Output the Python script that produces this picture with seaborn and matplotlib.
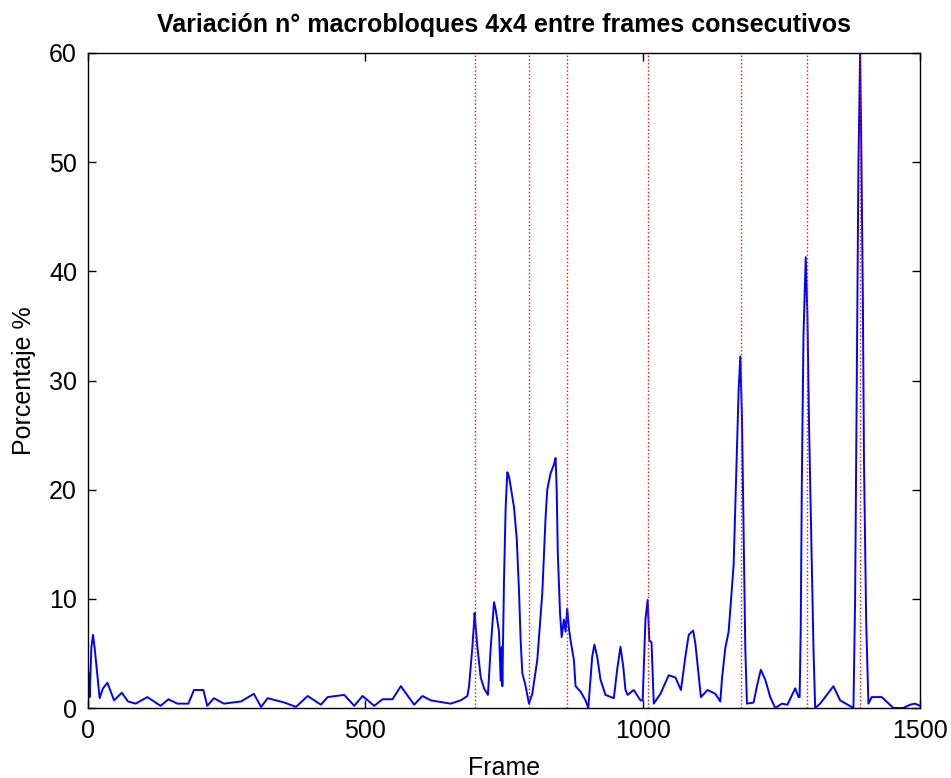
import matplotlib
matplotlib.use("Agg")
import matplotlib.pyplot as plt
import seaborn as sns
import pandas as pd

# ---- data ----
frames = [0, 1, 3, 6, 9, 12, 16, 21, 27, 35, 47, 61, 72, 86, 107, 131, 145, 161, 181,
          191, 208, 215, 227, 245, 276, 299, 312, 324, 354, 375, 396, 420, 432, 462,
          480, 495, 516, 531, 549, 564, 588, 603, 618, 654, 672, 684, 687, 690, 693,
          696, 697, 699, 702, 708, 714, 721, 726, 732, 735, 741, 744, 746, 747, 750,
          753, 756, 759, 762, 768, 773, 777, 780, 783, 789, 795, 801, 810, 819, 825,
          828, 834, 840, 843, 845, 847, 851, 854, 858, 861, 864, 867, 870, 876, 879,
          888, 897, 902, 909, 913, 918, 924, 933, 948, 954, 960, 965, 969, 973, 984,
          996, 1000, 1005, 1009, 1012, 1016, 1020, 1032, 1047, 1059, 1069, 1077, 1083,
          1091, 1095, 1105, 1117, 1131, 1140, 1143, 1149, 1155, 1159, 1164, 1167, 1170,
          1173, 1176, 1179, 1182, 1185, 1188, 1200, 1206, 1213, 1221, 1230, 1239, 1251,
          1261, 1275, 1281, 1283, 1285, 1287, 1290, 1294, 1297, 1300, 1304, 1308, 1311,
          1320, 1344, 1356, 1380, 1383, 1386, 1389, 1392, 1394, 1397, 1399, 1403, 1407,
          1413, 1431, 1452, 1470, 1482, 1491, 1500]
porcentaje = [0.0, 3.2, 1.0, 5.5, 6.7, 5.5, 3.5, 0.9, 1.8, 2.3, 0.7, 1.4, 0.6, 0.4, 1.0,
              0.2, 0.8, 0.4, 0.4, 1.65, 1.65, 0.2, 0.9, 0.4, 0.6, 1.3, 0.1, 0.9, 0.5,
              0.1, 1.1, 0.3, 1.0, 1.2, 0.2, 1.1, 0.2, 0.8, 0.8, 2.0, 0.3, 1.1, 0.7, 0.4,
              0.7, 1.1, 2.0, 3.8, 5.6, 7.8, 8.7, 7.4, 5.6, 2.8, 1.8, 1.2, 5.5, 9.7, 9.0,
              7.0, 2.5, 5.6, 2.0, 11.7, 18.4, 21.6, 21.2, 20.3, 18.4, 15.5, 10.8, 6.2,
              3.2, 2.0, 0.4, 1.3, 4.4, 10.5, 17.5, 20.0, 21.5, 22.3, 22.9, 20.0, 14.2,
              8.7, 6.5, 8.1, 7.0, 9.1, 7.3, 6.2, 4.4, 2.0, 1.5, 0.7, 0.0, 4.7, 5.8, 4.7,
              2.6, 1.2, 0.9, 3.5, 5.6, 3.8, 1.65, 1.2, 1.65, 0.7, 0.7, 8.1, 9.9, 6.2,
              6.0, 0.4, 1.3, 3.0, 2.8, 1.65, 4.7, 6.7, 7.1, 5.9, 1.0, 1.65, 1.3, 0.6,
              2.7, 5.5, 7.0, 9.7, 13.1, 18.4, 23.9, 29.1, 32.2, 26.7, 16.0, 5.5, 0.4,
              0.5, 2.0, 3.5, 2.6, 1.0, 0.0, 0.4, 0.3, 1.8, 1.0, 1.0, 7.4, 20.9, 34.3,
              41.3, 36.0, 25.8, 15.4, 5.3, 0.0, 0.4, 2.0, 0.7, 0.0, 9.9, 29.7, 49.7,
              60.0, 52.2, 37.4, 22.6, 7.8, 0.4, 1.0, 1.0, 0.0, 0.0, 0.3, 0.4, 0.2]
cortes = [697, 795, 864, 1009, 1178, 1296, 1392]

x_ticks = [0, 500, 1000, 1500]
y_ticks = [0, 10, 20, 30, 40, 50, 60]

titulo = "Variación n° macrobloques 4x4 entre frames consecutivos"
x_label = "Frame"
y_label = "Porcentaje %"

# ---- style ----
sns.set_style("white")
plt.rcParams['font.family'] = ['Liberation Sans', 'DejaVu Sans']
plt.rcParams['text.color'] = 'black'
plt.rcParams['axes.labelcolor'] = 'black'
plt.rcParams['xtick.color'] = 'black'
plt.rcParams['ytick.color'] = 'black'

fig = plt.figure(figsize=(9.51, 7.78), dpi=100)
ax = fig.add_axes([88 / 951, 70 / 778, (920 - 88) / 951, (708 - 53) / 778])

df = pd.DataFrame({"Frame": frames, "Porcentaje": porcentaje})
sns.lineplot(data=df, x="Frame", y="Porcentaje", ax=ax, color=(0, 0, 1),
             linewidth=1.4, estimator=None, sort=False, zorder=2)

for c in cortes:
    ax.axvline(c, color=(1, 0, 0), linestyle=':', linewidth=1.0, zorder=3)

ax.set_xlim(0, 1500)
ax.set_ylim(0, 60)
ax.set_xticks(x_ticks)
ax.set_yticks(y_ticks)
ax.tick_params(axis='both', which='both', direction='in', length=6, width=1,
               labelsize=18, top=True, right=True, bottom=True, left=True,
               colors='black')
ax.tick_params(axis='x', pad=8)
ax.tick_params(axis='y', pad=8)

for s in ax.spines.values():
    s.set_color('black')
    s.set_linewidth(1.0)
    s.set_visible(True)
    s.set_zorder(4)

ax.set_title(titulo, fontsize=18, fontweight='bold', pad=15, color='black')
ax.set_xlabel(x_label, fontsize=18, labelpad=9, color='black')
ax.set_ylabel(y_label, fontsize=18, labelpad=9, color='black')

fig.patch.set_facecolor('white')
fig.savefig("out.png", dpi=100, facecolor='white')
